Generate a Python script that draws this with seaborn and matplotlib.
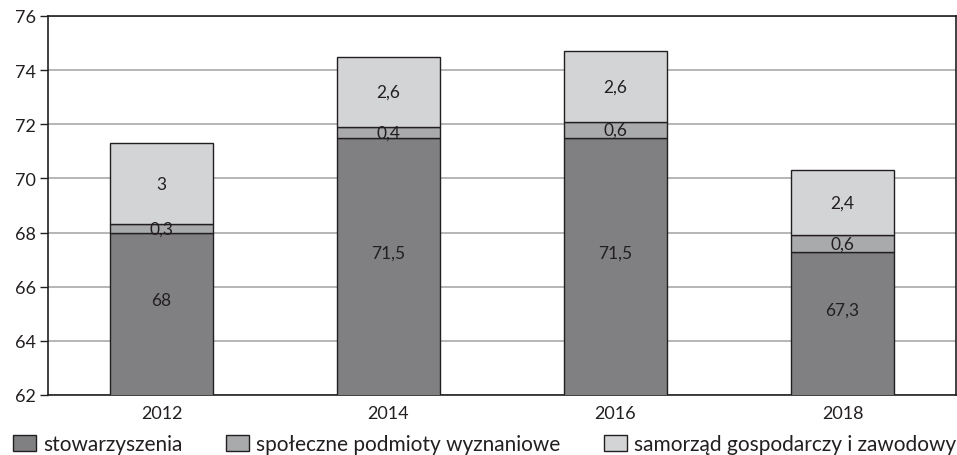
import numpy as np
import pandas as pd
import seaborn as sns
import matplotlib.pyplot as plt
from matplotlib.patches import Patch

years = ['2012', '2014', '2016', '2018']
stowarzyszenia = [68, 71.5, 71.5, 67.3]
wyznaniowe = [0.3, 0.4, 0.6, 0.6]
samorzad = [3, 2.6, 2.6, 2.4]
series_names = ['stowarzyszenia', 'społeczne podmioty wyznaniowe',
                'samorząd gospodarczy i zawodowy']
colors = ['#808083', '#a9aaac', '#d3d4d6']

df = pd.DataFrame({'year': years, 'a': stowarzyszenia, 'b': wyznaniowe, 'c': samorzad})

sns.set_style('white')
plt.rcParams['font.family'] = ['Lato', 'DejaVu Sans']
ink = '#231f20'

fig = plt.figure(figsize=(9.57, 4.56), dpi=100)
ax = fig.add_axes([48 / 957, 1 - 396 / 456, 908 / 957, 379 / 456])
ylo, yhi = 62, 76

bottom = np.zeros(len(years))
for col, color in zip(['a', 'b', 'c'], colors):
    sns.barplot(data=df, x='year', y=col, bottom=bottom, color=color,
                width=0.45, edgecolor=ink, linewidth=1.0, ax=ax,
                saturation=1, zorder=3)
    vals = df[col].values
    for i, v in enumerate(vals):
        lbl = ('%g' % v).replace('.', ',')
        if bottom[i] < ylo:
            # segment starts below the axis: centre label in the visible part
            ypos = (ylo + bottom[i] + v) / 2 + 0.5
        else:
            ypos = bottom[i] + v / 2
        ax.text(i, ypos, lbl, ha='center', va='center',
                fontsize=12.5, color=ink, zorder=4)
    bottom = bottom + vals

ax.set_ylim(ylo, yhi)
ax.set_xlim(-0.5, 3.5)
ax.set_yticks(range(62, 77, 2))
ax.yaxis.grid(True, color='#b0b0b0', linewidth=1.3, zorder=0)
ax.set_axisbelow(True)
ax.set_xlabel('')
ax.set_ylabel('')
for s in ax.spines.values():
    s.set_visible(True)
    s.set_color(ink)
    s.set_linewidth(1.2)

ax.set_xticks(range(4))
ax.set_xticklabels(years)
ax.set_xticks([-0.5, 0.5, 1.5, 2.5, 3.5], minor=True)
ax.tick_params(axis='x', which='major', length=0, labelsize=13, pad=7, colors=ink)
ax.tick_params(axis='x', which='minor', length=7, width=1, direction='out', color=ink)
ax.tick_params(axis='y', length=6, width=1, direction='out', labelsize=13,
               colors=ink, left=True, pad=3)

handles = [Patch(facecolor=c, edgecolor=ink, linewidth=1.0, label=n)
           for c, n in zip(colors, series_names)]
fig.legend(handles=handles, loc='center left', bbox_to_anchor=(13 / 957, 1 - 445 / 456),
           ncol=3, frameon=False, fontsize=15, handlelength=1.1, handleheight=0.77,
           handletextpad=0.34, columnspacing=2.1, borderaxespad=0, borderpad=0,
           labelcolor=ink)

fig.savefig('out.png', dpi=100)
